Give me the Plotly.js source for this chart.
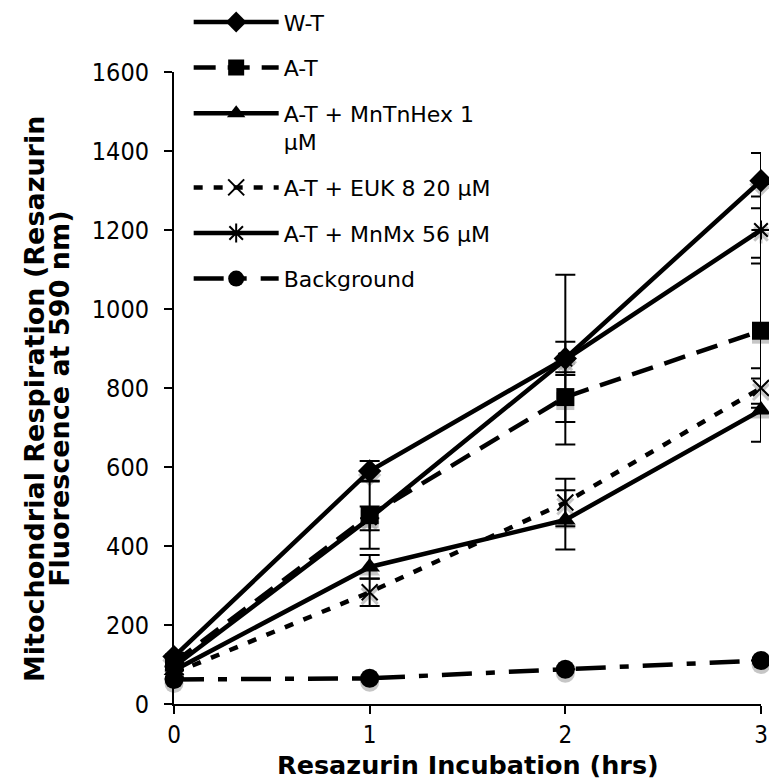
<!DOCTYPE html>
<html>
<head>
<meta charset="utf-8">
<script src="https://cdn.plot.ly/plotly-3.0.1.min.js"></script>
<style>html,body{margin:0;padding:0;background:#fff;}#chart{width:769px;height:781px;}</style>
</head>
<body>
<div id="chart"></div>
<script>
// ---- data ----
const hours = [0, 1, 2, 3];
const seriesNames = ["W-T", "A-T", "A-T + MnTnHex 1<br>μM", "A-T + EUK 8 20 μM", "A-T + MnMx 56 μM", "Background"];
const wt        = [120, 590, 875, 1325];
const wtErr     = [10, 25, 42, 70];
const at        = [105, 478, 777, 945];
const atErr     = [10, 85, 63, 185];
const mntnhex   = [85, 347, 466, 744];
const mntnhexErr= [10, 30, 75, 80];
const euk       = [78, 283, 510, 800];
const eukErr    = [10, 35, 60, 50];
const mnmx      = [95, 470, 872, 1200];
const mnmxErr   = [10, 30, 215, 85];
const background= [62, 65, 88, 110];
const backgroundErr = [0, 0, 0, 0];
const yTicks = [0, 200, 400, 600, 800, 1000, 1200, 1400, 1600];
const xTicks = [0, 1, 2, 3];
const xTitle = "Resazurin Incubation (hrs)";
const yTitleLines = ["Mitochondrial Respiration (Resazurin", "Fluorescence at 590 nm)"];

const FONT = "DejaVu Sans, Verdana, sans-serif";
const FONTC = "DejaVu Sans Condensed, DejaVu Sans, sans-serif";

const specs = [
  {y: wt, err: wtErr, symbol: "diamond", size: 18, dash: "solid"},
  {y: at, err: atErr, symbol: "square", size: 18, dash: "22px,12px"},
  {y: mntnhex, err: mntnhexErr, symbol: "triangle-up", size: 18, dash: "solid"},
  {y: euk, err: eukErr, symbol: "x-thin-open", size: 16, dash: "9px,11px", open: true},
  {y: mnmx, err: mnmxErr, symbol: "asterisk-open", size: 16, dash: "solid", open: true},
  {y: background, err: backgroundErr, symbol: "circle", size: 19, dash: "30px,14px,9px,14px"}
];

const traces = [];
// soft grey drop shadows under the markers (base axis range shifted so they sit a few px lower)
specs.forEach((s) => {
  traces.push({
    x: hours, y: s.y, type: "scatter", mode: "markers", yaxis: "y",
    showlegend: false, hoverinfo: "skip", cliponaxis: false,
    marker: {symbol: s.symbol, size: s.size, color: "rgba(160,160,160,0.6)",
             line: {color: "rgba(160,160,160,0.6)", width: s.open ? 3 : 0}}
  });
});
specs.forEach((s, i) => {
  traces.push({
    x: hours, y: s.y, name: seriesNames[i], type: "scatter", mode: "lines+markers",
    yaxis: "y2", legendgroup: "g" + i, cliponaxis: false,
    line: {color: "#000", width: 4.5, dash: s.dash},
    marker: {symbol: s.symbol, size: s.size, color: "#000",
             line: {color: "#000", width: s.open ? 2 : 0}},
    error_y: {type: "data", array: s.err, visible: true, color: "#000", thickness: 2, width: 10}
  });
});

const layout = {
  width: 769, height: 781,
  margin: {l: 174, r: 8, t: 72, b: 77, autoexpand: false},
  paper_bgcolor: "#fff", plot_bgcolor: "#fff",
  font: {family: FONT, size: 22, color: "#000"},
  showlegend: true,
  legend: {
    x: 0.025, y: 1.112, xanchor: "left", yanchor: "top",
    bgcolor: "rgba(0,0,0,0)", borderwidth: 0,
    traceorder: "grouped", tracegroupgap: 14, valign: "top",
    itemwidth: 85,
    font: {family: FONT, size: 22, color: "#000"}
  },
  xaxis: {
    range: [0, 3], tickvals: xTicks, ticktext: xTicks.map(String),
    showgrid: false, zeroline: false, showline: true, linecolor: "#000", linewidth: 2,
    ticks: "outside", ticklen: 8, tickwidth: 2, tickcolor: "#000",
    ticklabelstandoff: 0,
    tickfont: {family: FONTC, size: 24}
  },
  yaxis: {range: [10, 1610], visible: false, fixedrange: true},
  yaxis2: {
    range: [0, 1600], overlaying: "y", side: "left", tickvals: yTicks, ticktext: yTicks.map(String),
    showgrid: false, zeroline: false, showline: true, linecolor: "#000", linewidth: 2,
    ticks: "outside", ticklen: 8, tickwidth: 2, tickcolor: "#000",
    ticklabelstandoff: 10,
    tickfont: {family: FONTC, size: 25}
  },
  annotations: [
    {text: "<b>" + xTitle + "</b>", xref: "paper", yref: "paper", x: 0.5, y: -0.097,
     xanchor: "center", yanchor: "middle", showarrow: false, font: {family: FONT, size: 25.5}},
    {text: "<b>" + yTitleLines[0] + "</b>", xref: "paper", yref: "paper", x: -0.238, y: 0.483,
     xanchor: "center", yanchor: "middle", textangle: -90, showarrow: false, font: {family: FONT, size: 27}},
    {text: "<b>" + yTitleLines[1] + "</b>", xref: "paper", yref: "paper", x: -0.194, y: 0.483,
     xanchor: "center", yanchor: "middle", textangle: -90, showarrow: false, font: {family: FONT, size: 27}}
  ]
};

Plotly.newPlot("chart", traces, layout, {displayModeBar: false, staticPlot: true});
</script>
</body>
</html>
